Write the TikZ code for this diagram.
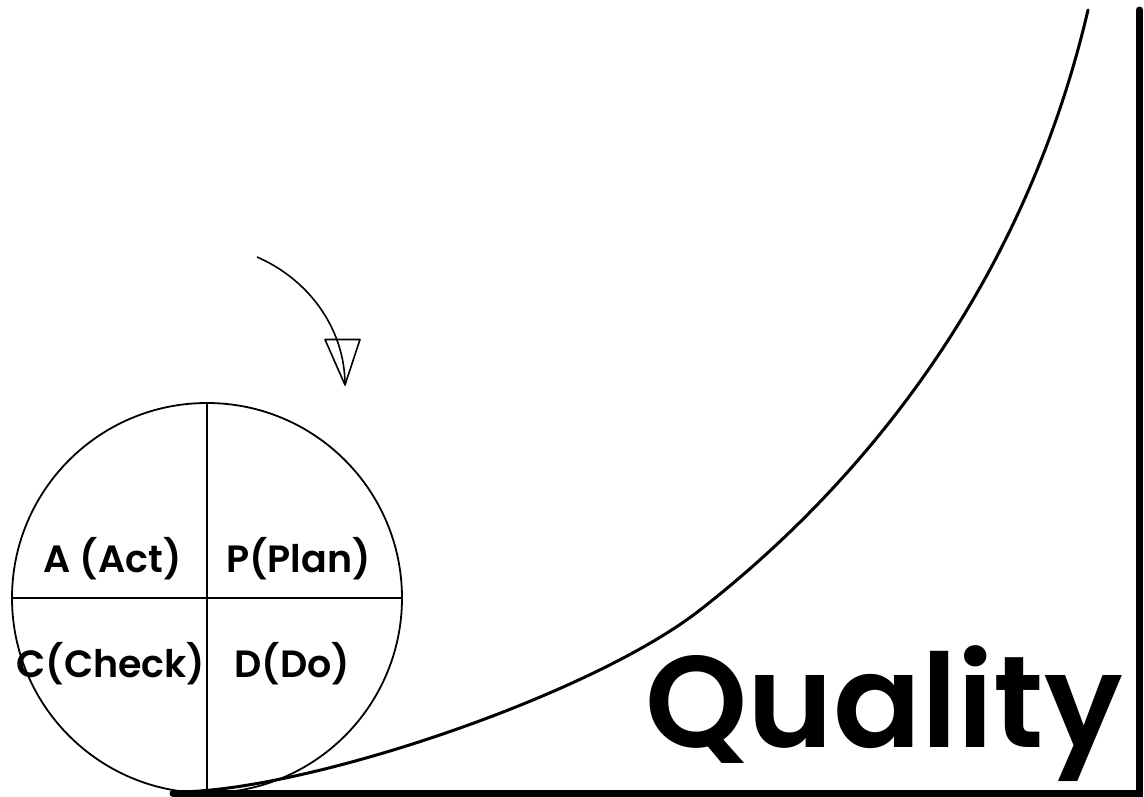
\documentclass[tikz,border=0pt]{standalone}
\usepackage{fontspec}
\setmainfont{Poppins}[BoldFont={Poppins SemiBold}]
\usetikzlibrary{positioning}

\begin{document}
\begin{tikzpicture}[x=1pt,y=1pt,yscale=-1,xscale=1,
	phase/.style={anchor=base, inner sep=0pt, font=\fontsize{38}{38}\selectfont\bfseries},
	wheel/.style={line width=1.8pt},
	axis/.style={line width=7pt, line cap=round}]
	\useasboundingbox (0,0) rectangle (1144,797);

	%Shape: Circle (PDCA wheel)
	\coordinate (hub) at (207,598);
	\draw [wheel] (hub) circle (195);
	%Straight Lines
	\draw [wheel] (207,403) -- (207,793) ;
	\draw [wheel] (12,598) -- (402,598) ;

	% Text Node
	\node [phase] (act) at (112.5,572) {A (Act)};
	% Text Node
	\node [phase] (plan) at (298.5,572) {P(Plan)};
	% Text Node
	\node [phase] (check) at (111,677) {C(Check)};
	% Text Node
	\node [phase] (do) at (292.5,677) {D(Do)};

	%Curve: rotation arrow
	\coordinate (spin) at (257,257);
	\coordinate (tip) at (345,385);
	\draw [line width=1.6pt] (spin) .. controls (310,280) and (345,330) .. (tip) ;
	\draw [line width=1.6pt, line join=round] (325,339.5) -- (360,339.5) -- (tip) -- cycle ;

	%Shape: Axes
	\draw [axis] (173,793.5) -- (1139.5,793.5) -- (1139.5,10) ;

	%Curve: quality growth
	\coordinate (low) at (175,792);
	\coordinate (bend) at (700,610);
	\coordinate (high) at (1088,10);
	\draw [line width=3pt, line cap=round] (low) .. controls (305,792) and (590,696) .. (bend)
		.. controls (820,516.4) and (1014,326.6) .. (high) ;

	% Text Node
	\node [anchor=base, inner sep=0pt, font=\fontsize{130}{130}\selectfont\bfseries] (quality) at (884,747) {Quality};
\end{tikzpicture}
\end{document}
